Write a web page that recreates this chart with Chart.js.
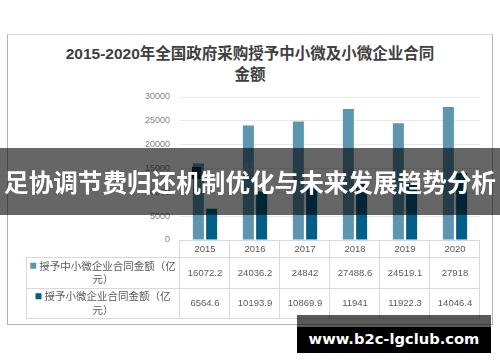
<!DOCTYPE html>
<html>
<head>
<meta charset="utf-8">
<script src="https://cdn.jsdelivr.net/npm/chart.js@4/dist/chart.umd.min.js"></script>
<style>
  html, body { margin: 0; padding: 0; background: #fff; }
  .stage { position: relative; width: 500px; height: 362px; overflow: hidden; }
  .frame {
    position: absolute; left: 7px; top: 34px; width: 484px; height: 289px;
    border: 1px solid #b4b4b4; border-top-color: #d9d9d9;
  }
  .title {
    position: absolute; left: 0; top: 43px; width: 500px; text-align: center;
    font: bold 15.5px "Liberation Sans", "Noto Sans CJK SC", sans-serif;
    line-height: 21px; color: #404040;
  }
  canvas { position: absolute; left: 0; top: 0; }
  .banner {
    position: absolute; left: 0; top: 148px; width: 500px; height: 67px;
    background: rgba(0, 0, 0, 0.6); color: #fff; text-align: center;
    font: bold 24.6px "Noto Sans CJK SC", sans-serif; line-height: 67px;
    white-space: nowrap; overflow: hidden;
  }
  .mark {
    position: absolute; left: 192px; top: 163px; height: 14px;
    font: 19px "Noto Sans CJK SC", sans-serif; line-height: 14px;
    color: rgba(255, 255, 255, 0.16); white-space: nowrap;
  }
  .mark i { display: inline-block; width: 9px; height: 12px; background: #1b2f3b; margin-right: 16px; vertical-align: middle; }
  .wm-gray { position: absolute; left: 297px; top: 315px; width: 194px; height: 12px; background: rgba(0, 0, 0, 0.65); }
  .wm {
    position: absolute; left: 297px; top: 327px; width: 194px; height: 26px;
    background: #000; color: #fff; text-align: center;
    font: bold 14.7px "DejaVu Sans", sans-serif; line-height: 24px;
  }
</style>
</head>
<body>
<div class="stage">
  <div class="frame"></div>
  <div class="title">2015-2020年全国政府采购授予中小微及小微企业合同<br>金额</div>
  <canvas id="chart" width="500" height="362"></canvas>
  <div class="mark"><i></i>智研咨询</div>
  <div class="banner">足协调节费归还机制优化与未来发展趋势分析</div>
  <div class="wm-gray"></div>
  <div class="wm">www.b2c-lgclub.com</div>
</div>
<script>
const years = ['2015', '2016', '2017', '2018', '2019', '2020']
const smeAmounts = [16072.2, 24036.2, 24842, 27488.6, 24519.1, 27918]
const microAmounts = [6564.6, 10193.9, 10869.9, 11941, 11922.3, 14046.4]
const seriesNames = ['授予中小微企业合同金额（亿元）', '授予小微企业合同金额（亿元）']
const seriesColors = ['#5e95af', '#005f87']

const LINE = '#d9d9d9'
const TEXT = '#595959'
const NO_LINE_START = '）)，。、'

// wrap a label into lines that fit maxWidth, never starting a line with closing punctuation
function wrapText(ctx, text, maxWidth) {
  const lines = []
  let cur = ''
  for (const ch of text) {
    if (cur && ctx.measureText(cur + ch).width > maxWidth) {
      if (NO_LINE_START.includes(ch) && cur.length > 1) {
        lines.push(cur.slice(0, -1))
        cur = cur.slice(-1) + ch
      } else {
        lines.push(cur)
        cur = ch
      }
    } else {
      cur += ch
    }
  }
  if (cur) lines.push(cur)
  return lines
}

const dataTable = {
  id: 'dataTable',
  afterDraw(chart) {
    const { ctx, chartArea } = chart
    const x = chart.scales.x
    const half = x.width / years.length / 2
    const top = chartArea.bottom
    const rows = [top, top + 17, top + 48, top + 78]
    const left = 26
    const right = chartArea.right
    const rowValues = [smeAmounts, microAmounts]

    ctx.save()
    ctx.strokeStyle = LINE
    ctx.lineWidth = 1
    ctx.beginPath()
    ctx.moveTo(chartArea.left, rows[0] + 0.5)
    ctx.lineTo(right, rows[0] + 0.5)
    for (let r = 1; r < rows.length; r++) {
      ctx.moveTo(left, rows[r] + 0.5)
      ctx.lineTo(right, rows[r] + 0.5)
    }
    ctx.moveTo(left + 0.5, rows[1])
    ctx.lineTo(left + 0.5, rows[3])
    years.forEach((_, i) => {
      const cx = x.getPixelForValue(i)
      const edge = Math.round(cx - half) - 0.5
      ctx.moveTo(edge, rows[0])
      ctx.lineTo(edge, rows[3])
    })
    ctx.moveTo(Math.round(right) - 0.5, rows[0])
    ctx.lineTo(Math.round(right) - 0.5, rows[3])
    ctx.stroke()

    ctx.fillStyle = TEXT
    ctx.textAlign = 'center'
    ctx.textBaseline = 'middle'
    ctx.font = '9.5px "Liberation Sans", "Noto Sans CJK SC", sans-serif'
    years.forEach((yr, i) => {
      const cx = x.getPixelForValue(i)
      ctx.fillText(yr, cx, (rows[0] + rows[1]) / 2 + 0.5)
      rowValues.forEach((vals, r) => {
        ctx.fillText(String(vals[i]), cx, (rows[r + 1] + rows[r + 2]) / 2 + 0.5)
      })
    })

    // legend cells
    ctx.font = '10.5px "Noto Sans CJK SC", sans-serif'
    const cellCenter = (left + chartArea.left) / 2
    seriesNames.forEach((name, r) => {
      const lines = wrapText(ctx, name, 138)
      const mid = (rows[r + 1] + rows[r + 2]) / 2
      const lh = 13.5
      lines.forEach((ln, k) => {
        const ly = mid + (k - (lines.length - 1) / 2) * lh
        if (k === 0) {
          const w = ctx.measureText(ln).width + 9
          const sx = cellCenter - w / 2
          ctx.fillStyle = seriesColors[r]
          ctx.fillRect(sx, ly - 3, 6, 6)
          ctx.fillStyle = TEXT
          ctx.textAlign = 'left'
          ctx.fillText(ln, sx + 9, ly)
        } else {
          ctx.textAlign = 'center'
          ctx.fillText(ln, cellCenter, ly)
        }
      })
      ctx.textAlign = 'center'
    })
    ctx.restore()
  }
}

const chart = new Chart(document.getElementById('chart'), {
  type: 'bar',
  data: {
    labels: years,
    datasets: [
      { label: seriesNames[0], data: smeAmounts, backgroundColor: seriesColors[0] },
      { label: seriesNames[1], data: microAmounts, backgroundColor: seriesColors[1] },
    ],
  },
  options: {
    responsive: false,
    animation: false,
    devicePixelRatio: 1,
    layout: { padding: { left: 20, right: 20, top: 97, bottom: 122 } },
    datasets: { bar: { categoryPercentage: 0.53, barPercentage: 0.83 } },
    plugins: {
      legend: { display: false },
      title: { display: false },
      tooltip: { enabled: false },
    },
    scales: {
      x: { display: false },
      y: {
        min: 0,
        max: 30000,
        ticks: {
          stepSize: 5000,
          padding: 10,
          color: '#7f7f7f',
          font: { family: '"Liberation Sans", sans-serif', size: 9 },
          callback: (v) => String(v),
        },
        grid: { color: '#e8e8e8', drawTicks: false },
        border: { display: false },
        afterFit: (scale) => { scale.width = 160 },
      },
    },
  },
  plugins: [dataTable],
})
</script>
</body>
</html>
